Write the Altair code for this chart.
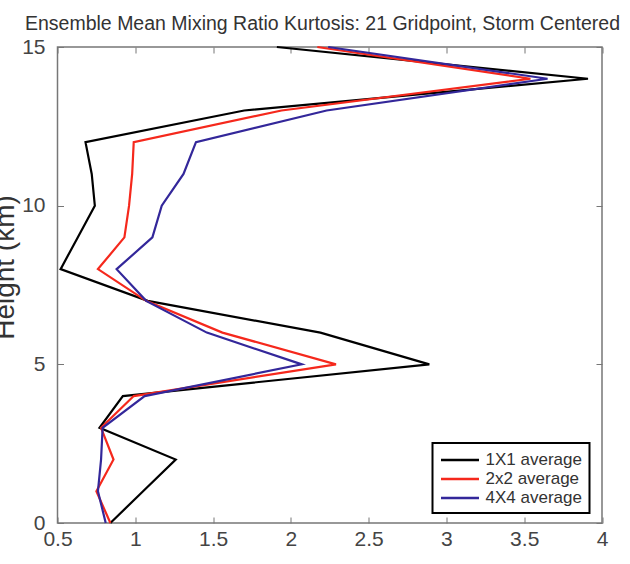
import altair as alt
import pandas as pd

# ---- data ----
heights = list(range(16))  # km
black_1x1 = [0.84, 1.05, 1.26, 0.77, 0.92, 2.89, 2.19, 1.08, 0.52, 0.63, 0.74, 0.72, 0.68, 1.70, 3.91, 1.91]
red_2x2 = [0.84, 0.75, 0.86, 0.78, 0.99, 2.29, 1.56, 1.07, 0.76, 0.93, 0.96, 0.98, 0.99, 1.94, 3.54, 2.17]
blue_4x4 = [0.81, 0.76, 0.78, 0.79, 1.06, 2.07, 1.46, 1.07, 0.88, 1.11, 1.17, 1.31, 1.39, 2.23, 3.65, 2.24]

series_names = ["1X1 average", "2x2 average", "4X4 average"]
series_colors = ["#000000", "#f5281c", "#33279a"]
x_ticks = [0.5, 1, 1.5, 2, 2.5, 3, 3.5, 4]
y_ticks = [0, 5, 10, 15]
title_text = "Ensemble Mean Mixing Ratio Kurtosis: 21 Gridpoint, Storm Centered"
y_title = "Height (km)"

rows = []
for name, vals in zip(series_names, [black_1x1, red_2x2, blue_4x4]):
    for h, v in zip(heights, vals):
        rows.append({"series": name, "height": h, "kurtosis": v})
df = pd.DataFrame(rows)

FONT = "Liberation Sans"
AX = "#777777"

xscale = alt.Scale(domain=[0.5, 4], nice=False, zero=False)
yscale = alt.Scale(domain=[0, 15], nice=False, zero=False)

main = alt.Chart(df).mark_line(strokeWidth=2.2).encode(
    x=alt.X("kurtosis:Q", scale=xscale,
            axis=alt.Axis(orient="bottom", values=x_ticks, format="~g", tickSize=6, offset=-6,
                          domain=False, grid=False, labelPadding=5, labelFontSize=21,
                          labelColor="#444444", tickColor=AX, labelFlush=False, title="")),
    y=alt.Y("height:Q", scale=yscale,
            axis=alt.Axis(orient="left", values=y_ticks, tickSize=6, offset=-6,
                          domain=False, grid=False, labelPadding=12.5, labelFontSize=21,
                          labelColor="#444444", tickColor=AX,
                          title=y_title, titleFontSize=28, titleFontWeight="normal",
                          titleAngle=270, titleX=-50.5, titleY=220, titleAlign="center",
                          titleBaseline="alphabetic", titleColor="#333333")),
    color=alt.Color("series:N", title=None,
                    scale=alt.Scale(domain=series_names, range=series_colors),
                    legend=alt.Legend(orient="none", legendX=375, legendY=396,
                                      symbolType="M-1,0H3.47", symbolSize=289,
                                      symbolStrokeWidth=2.5, labelOffset=26,
                                      labelFontSize=17, labelColor="#333333",
                                      padding=7, strokeColor="black", rowPadding=1,
                                      labelLimit=300)),
    order=alt.Order("height:Q"),
)

frame_axes = alt.Chart(df).mark_line(opacity=0).encode(
    x=alt.X("kurtosis:Q", scale=xscale,
            axis=alt.Axis(orient="top", values=x_ticks, tickSize=6, offset=-6, domain=False,
                          grid=False, labels=False, tickColor=AX, title="")),
    y=alt.Y("height:Q", scale=yscale,
            axis=alt.Axis(orient="right", values=y_ticks, tickSize=6, offset=-6, domain=False,
                          grid=False, labels=False, tickColor=AX, title="")),
    detail="series:N",
    order=alt.Order("height:Q"),
)

chart = (
    alt.layer(main, frame_axes)
    .resolve_axis(x="independent", y="independent")
    .properties(
        width=544.5,
        height=476,
        autosize=alt.AutoSizeParams(type="none"),
        padding={"left": 57.5, "top": 47, "right": 28, "bottom": 41},
        title=alt.TitleParams(text=title_text, anchor="start", frame="group", dx=-32.5,
                              dy=29, fontSize=19.5, fontWeight="normal", color="#333333",
                              font=FONT, offset=12, baseline="bottom"),
    )
    .configure_view(stroke=AX, strokeWidth=1.5)
    .configure_axis(labelFont=FONT, titleFont=FONT)
    .configure_legend(labelFont=FONT, strokeWidth=2)
)

chart.save("out.html", embed_options={"renderer": "svg", "actions": False})
